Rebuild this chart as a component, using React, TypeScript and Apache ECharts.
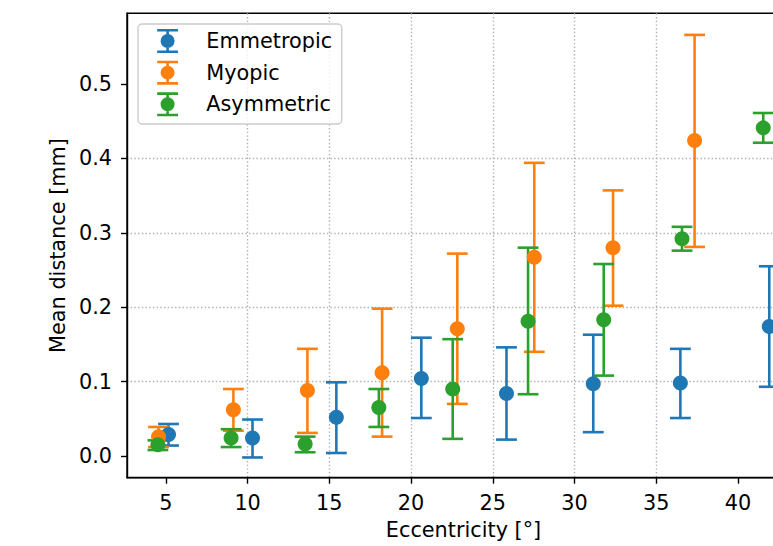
import React, { useEffect, useRef } from "react";
import * as echarts from "echarts";

// ---- data ----
const seriesNames = ["Emmetropic", "Myopic", "Asymmetric"];

const emmX = [5.16, 10.3, 15.43, 20.63, 25.84, 31.15, 36.48, 41.92];
const emmMean = [0.029, 0.024, 0.052, 0.104, 0.084, 0.097, 0.098, 0.174];
const emmLow = [0.014, -0.002, 0.004, 0.051, 0.022, 0.032, 0.051, 0.093];
const emmHigh = [0.043, 0.049, 0.099, 0.159, 0.146, 0.163, 0.144, 0.255];

const myoX = [4.55, 9.13, 13.66, 18.23, 22.83, 27.54, 32.36, 37.35];
const myoMean = [0.026, 0.062, 0.088, 0.112, 0.171, 0.267, 0.28, 0.424];
const myoLow = [0.012, 0.034, 0.031, 0.026, 0.07, 0.14, 0.202, 0.281];
const myoHigh = [0.039, 0.09, 0.144, 0.198, 0.272, 0.394, 0.357, 0.566];

const asyX = [4.51, 8.99, 13.52, 18.03, 22.55, 27.16, 31.79, 36.58, 41.55];
const asyMean = [0.015, 0.024, 0.016, 0.065, 0.09, 0.181, 0.183, 0.292, 0.441];
const asyLow = [0.008, 0.012, 0.005, 0.039, 0.023, 0.083, 0.108, 0.276, 0.421];
const asyHigh = [0.021, 0.036, 0.026, 0.09, 0.157, 0.28, 0.258, 0.308, 0.461];

const xTicks = [5, 10, 15, 20, 25, 30, 35, 40];
const yTicks = [0, 0.1, 0.2, 0.3, 0.4, 0.5];

const colors = ["#1f77b4", "#ff7f0e", "#2ca02c"];

const FONT = "DejaVu Sans";
const FS = 20.8;
const LW = 2.6;
const CAP = 10.4;

const legendIcon =
  "path://M0,11.99h0.01v0.02h-0.01Z M51.29,11.99h0.01v0.02h-0.01Z " +
  "M7.2,0h20.8v2.6h-20.8Z M7.2,21.4h20.8v2.6h-20.8Z M16.3,0h2.6v24h-2.6Z " +
  "M10.6,12a7,7 0 1,1 14,0a7,7 0 1,1 -14,0Z";

function rows(xs: number[], m: number[], lo: number[], hi: number[]) {
  return xs.map((x, i) => [x, m[i], lo[i], hi[i]]);
}

function errorSeries(name: string, color: string, data: number[][]) {
  return {
    type: "custom",
    name,
    itemStyle: { color },
    data,
    encode: { x: 0, y: [1, 2, 3] },
    renderItem: (_p: any, api: any) => {
      const x = api.value(0);
      const lo = api.coord([x, api.value(2)]);
      const hi = api.coord([x, api.value(3)]);
      const st = { stroke: color, lineWidth: LW, fill: "none" };
      return {
        type: "group",
        children: [
          { type: "line", shape: { x1: lo[0], y1: lo[1], x2: hi[0], y2: hi[1] }, style: st },
          { type: "line", shape: { x1: lo[0] - CAP, y1: lo[1], x2: lo[0] + CAP, y2: lo[1] }, style: st },
          { type: "line", shape: { x1: hi[0] - CAP, y1: hi[1], x2: hi[0] + CAP, y2: hi[1] }, style: st },
        ],
      };
    },
  };
}

function markerSeries(name: string, color: string, data: number[][]) {
  return {
    type: "scatter",
    name,
    data: data.map((r) => [r[0], r[1]]),
    symbol: "circle",
    symbolSize: 15,
    itemStyle: { color, opacity: 1 },
    emphasis: { disabled: true },
  };
}

export default function App() {
  const ref = useRef<HTMLDivElement>(null);
  useEffect(() => {
    document.documentElement.style.overflow = "hidden";
    document.body.style.overflow = "hidden";
    if (!ref.current) return;
    const chart = echarts.init(ref.current, undefined, { renderer: "svg" });
    const sets = [
      rows(emmX, emmMean, emmLow, emmHigh),
      rows(myoX, myoMean, myoLow, myoHigh),
      rows(asyX, asyMean, asyLow, asyHigh),
    ];
    const series: any[] = [];
    sets.forEach((d, i) => {
      series.push(errorSeries(seriesNames[i], colors[i], d));
      series.push(markerSeries(seriesNames[i], colors[i], d));
    });
    const axisCommon = {
      type: "value",
      axisLine: { show: true, onZero: false, lineStyle: { color: "#000", width: 1.4 } },
      axisTick: { show: true, length: 6, inside: false, lineStyle: { color: "#000", width: 1.4 } },
      splitLine: {
        show: true,
        showMinLine: false,
        showMaxLine: false,
        lineStyle: { color: "#b0b0b0", width: 1.4, type: [1.4, 2.3] },
      },
      nameLocation: "middle",
      nameTextStyle: { fontFamily: FONT, fontSize: FS, color: "#000" },
    };
    chart.setOption({
      animation: false,
      backgroundColor: "#fff",
      textStyle: { fontFamily: FONT },
      grid: {
        left: 127,
        right: 40,
        top: 13.3,
        bottom: 68.3,
        show: true,
        borderColor: "#000",
        borderWidth: 1.4,
        backgroundColor: "transparent",
      },
      legend: {
        orient: "vertical",
        left: 138,
        top: 24,
        padding: [5, 9.6, 7.7, 12],
        itemWidth: 51.3,
        itemHeight: 24,
        itemGap: 7.65,
        backgroundColor: "rgba(255,255,255,0.8)",
        borderColor: "#cccccc",
        borderWidth: 1.4,
        borderRadius: 4,
        selectedMode: false,
        itemStyle: { borderWidth: 0 },
        textStyle: { fontFamily: FONT, fontSize: FS, color: "#000", lineHeight: 24 },
        data: seriesNames.map((n) => ({ name: n, icon: legendIcon })),
      },
      xAxis: {
        ...axisCommon,
        min: 2.62,
        max: 43.8,
        name: "Eccentricity [°]",
        nameGap: 42,
        axisTick: { ...axisCommon.axisTick, customValues: xTicks },
        axisLabel: {
          customValues: xTicks,
          margin: 15,
          fontFamily: FONT,
          fontSize: FS,
          color: "#000",
          formatter: (v: number) => String(Math.round(v)),
        },
      },
      yAxis: {
        ...axisCommon,
        min: -0.0292,
        max: 0.595,
        name: "Mean distance [mm]",
        nameGap: 58,
        axisTick: { ...axisCommon.axisTick, customValues: yTicks },
        axisLabel: {
          customValues: yTicks,
          margin: 15,
          fontFamily: FONT,
          fontSize: FS,
          color: "#000",
          formatter: (v: number) => v.toFixed(1),
        },
      },
      series,
    });
    return () => chart.dispose();
  }, []);
  return (
    <div
      ref={ref}
      style={{ position: "fixed", left: 0, top: 0, width: 840, height: 546, background: "#fff" }}
    />
  );
}
